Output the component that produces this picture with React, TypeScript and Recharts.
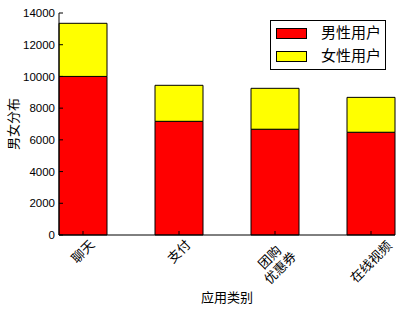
import { BarChart, Bar, XAxis, YAxis, Legend } from 'recharts';

const categories = ['聊天', '支付', '团购\n优惠券', '在线视频'];
const maleUsers = [10000, 7170, 6670, 6480];
const femaleUsers = [3350, 2270, 2580, 2200];
const seriesNames = ['男性用户', '女性用户'];
const yTicks = [0, 2000, 4000, 6000, 8000, 10000, 12000, 14000];

const data = categories.map((name, i) => ({
  name,
  male: maleUsers[i],
  female: femaleUsers[i],
}));

const FONT = "'Liberation Sans', Arial, 'Noto Sans CJK SC', sans-serif";

// rotated 45° like matplotlib, centred on the tick
function RotatedTick({ x, y, payload }: any) {
  const lines = String(payload.value).split('\n');
  const fs = 13;
  const lh = 15;
  const n = Math.max(...lines.map((l) => l.length));
  const cy = y + 0.65 + 0.39 * (n * fs + lines.length * lh);
  return (
    <text
      transform={`rotate(-45, ${x}, ${cy})`}
      textAnchor="middle"
      fontSize={fs}
      fontFamily={FONT}
      fill="#000"
    >
      {lines.map((l, i) => (
        <tspan key={i} x={x} y={cy + (i - (lines.length - 1) / 2) * lh} dy="0.35em">
          {l}
        </tspan>
      ))}
    </text>
  );
}

function YTitle({ viewBox }: any) {
  const cx = viewBox.x + 13;
  const cy = viewBox.y + viewBox.height / 2;
  return (
    <text
      x={cx}
      y={cy}
      transform={`rotate(-90, ${cx}, ${cy})`}
      textAnchor="middle"
      dy="0.35em"
      fontSize={13}
      fontFamily={FONT}
      fill="#000"
    >
      男女分布
    </text>
  );
}

function XTitle({ viewBox }: any) {
  return (
    <text
      x={viewBox.x + viewBox.width / 2}
      y={viewBox.y + 62}
      textAnchor="middle"
      dy="0.35em"
      fontSize={13}
      fontFamily={FONT}
      fill="#000"
    >
      应用类别
    </text>
  );
}

function LegendBox({ payload }: any) {
  const items = [...(payload || [])].sort(
    (a: any, b: any) => seriesNames.indexOf(a.value) - seriesNames.indexOf(b.value)
  );
  return (
    <div
      style={{
        position: 'relative',
        boxSizing: 'border-box',
        width: 116,
        height: 50,
        border: '1px solid #000',
        background: '#fff',
        fontFamily: FONT,
        fontSize: 15,
      }}
    >
      {items.map((entry: any, i: number) => (
        <div key={entry.value} style={{ position: 'absolute', left: 5, top: 7 + i * 23, height: 12 }}>
          <span
            style={{
              position: 'absolute',
              left: 0,
              top: 0,
              boxSizing: 'border-box',
              width: 31,
              height: 11,
              background: entry.color,
              border: '1px solid #000',
            }}
          />
          <span
            style={{
              position: 'absolute',
              left: 45,
              top: -4,
              lineHeight: '18px',
              whiteSpace: 'nowrap',
              color: '#000',
            }}
          >
            {entry.value}
          </span>
        </div>
      ))}
    </div>
  );
}

export default function App() {
  return (
    <div style={{ position: 'absolute', left: 0, top: 0, background: '#fff' }}>
      <BarChart width={401} height={309} data={data} margin={{ top: 13, right: 6, bottom: 0, left: 0 }}>
        <XAxis
          dataKey="name"
          height={74}
          padding={{ left: -24, right: -24 }}
          interval={0}
          tickSize={-4}
          tickMargin={4}
          tick={<RotatedTick />}
          axisLine={{ stroke: '#000' }}
          tickLine={{ stroke: '#000' }}
          label={(p: any) => <XTitle {...p} />}
        />
        <XAxis
          xAxisId="top"
          orientation="top"
          dataKey="name"
          height={0}
          padding={{ left: -24, right: -24 }}
          interval={0}
          tickSize={-4}
          tick={false}
          axisLine={{ stroke: '#000' }}
          tickLine={{ stroke: '#000' }}
        />
        <YAxis
          width={59}
          domain={[0, 14000]}
          ticks={yTicks}
          interval={0}
          tickSize={-4}
          tickMargin={8}
          tick={{ fill: '#000', fontSize: 11.5, fontFamily: FONT }}
          axisLine={{ stroke: '#000' }}
          tickLine={{ stroke: '#000' }}
          label={(p: any) => <YTitle {...p} />}
        />
        <YAxis
          yAxisId="right"
          orientation="right"
          width={0}
          domain={[0, 14000]}
          ticks={yTicks}
          interval={0}
          tickSize={-4}
          tick={false}
          axisLine={{ stroke: '#000' }}
          tickLine={{ stroke: '#000' }}
        />
        <Legend
          layout="vertical"
          align="center"
          verticalAlign="middle"
          content={<LegendBox />}
          wrapperStyle={{ left: 270, top: 20, width: 116, height: 50 }}
        />
        <Bar
          dataKey="male"
          name={seriesNames[0]}
          stackId="a"
          fill="#ff0000"
          stroke="#000"
          strokeWidth={1}
          barSize={48}
          isAnimationActive={false}
        />
        <Bar
          dataKey="female"
          name={seriesNames[1]}
          stackId="a"
          fill="#ffff00"
          stroke="#000"
          strokeWidth={1}
          barSize={48}
          isAnimationActive={false}
        />
      </BarChart>
    </div>
  );
}
